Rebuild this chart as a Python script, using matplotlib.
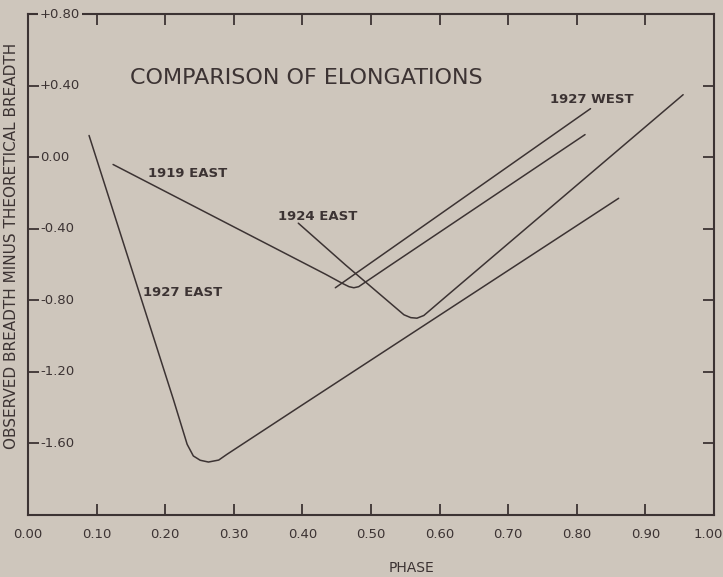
import matplotlib
matplotlib.use("Agg")
import matplotlib.pyplot as plt
from matplotlib.transforms import ScaledTranslation

# ---- data ----
east1927_x = [0.089, 0.212, 0.232, 0.241, 0.251, 0.263, 0.278, 0.290, 0.397, 0.861]
east1927_y = [0.121, -1.355, -1.605, -1.670, -1.694, -1.704, -1.693, -1.661, -1.392, -0.230]

east1919_x = [0.124, 0.434, 0.458, 0.468, 0.475, 0.482, 0.526, 0.812]
east1919_y = [-0.041, -0.655, -0.705, -0.724, -0.730, -0.724, -0.610, 0.126]

west1927_x = [0.448, 0.820]
west1927_y = [-0.730, 0.271]

east1924_x = [0.394, 0.463, 0.548, 0.558, 0.567, 0.577, 0.609, 0.955]
east1924_y = [-0.369, -0.603, -0.881, -0.897, -0.900, -0.885, -0.780, 0.349]

xtick_values = [0.0, 0.1, 0.2, 0.3, 0.4, 0.5, 0.6, 0.7, 0.8, 0.9, 1.0]
xtick_labels = ["0.00", "0.10", "0.20", "0.30", "0.40", "0.50", "0.60", "0.70", "0.80", "0.90", "1.00"]
ytick_values = [0.8, 0.4, 0.0, -0.4, -0.8, -1.2, -1.6]
ytick_labels = ["+0.80", "+0.40", "0.00", "-0.40", "-0.80", "-1.20", "-1.60"]

series_labels = ["1927 EAST", "1919 EAST", "1924 EAST", "1927 WEST"]
label_x = [0.168, 0.175, 0.365, 0.761]
label_y = [-0.759, -0.091, -0.330, 0.321]

title = "COMPARISON OF ELONGATIONS"
xlabel = "PHASE"
ylabel = "OBSERVED BREADTH MINUS THEORETICAL BREADTH"

# ---- style ----
BG = "#cec6bc"
INK = "#3c3333"

fig = plt.figure(figsize=(7.23, 5.77), dpi=100, facecolor=BG)
ax = fig.add_axes([28 / 723, 1 - 515 / 577, 686 / 723, 501 / 577], facecolor=BG)

for xs, ys in [(east1927_x, east1927_y), (east1919_x, east1919_y),
               (west1927_x, west1927_y), (east1924_x, east1924_y)]:
    ax.plot(xs, ys, color=INK, lw=1.1, solid_joinstyle="round", solid_capstyle="round")

ax.set_xlim(0, 1.0)
ax.set_ylim(-2.0, 0.8)

for s in ax.spines.values():
    s.set_color(INK)
    s.set_linewidth(1.5)

ax.set_xticks(xtick_values)
ax.set_xticklabels(xtick_labels, fontsize=9.5, color=INK)
ax.tick_params(axis="x", direction="in", length=8, width=1.3, color=INK, pad=9,
               top=True, bottom=True)
# keep the last label inside the figure, as in the reference
last = ax.get_xticklabels()[-1]
last.set_transform(last.get_transform() + ScaledTranslation(-6 / 100, 0, fig.dpi_scale_trans))

ax.set_yticks(ytick_values)
ax.set_yticklabels([])
ax.tick_params(axis="y", direction="in", length=8, width=1.3, color=INK,
               left=True, right=True)

ytr = ax.get_yaxis_transform()
for v, lab in zip(ytick_values, ytick_labels):
    t = ax.text(0.0175, v, lab, transform=ytr, ha="left", va="center",
                fontsize=9.5, color=INK, clip_on=False, zorder=5)
    if v == 0.8:
        t.set_bbox(dict(facecolor=BG, edgecolor="none", pad=1.5))

for lab, lx, ly in zip(series_labels, label_x, label_y):
    ax.text(lx, ly, lab, ha="left", va="center", fontsize=9.5, color=INK,
            fontweight="semibold")

ax.text(0.149, 0.444, title, ha="left", va="center", fontsize=16, color=INK)

fig.text(412 / 723, 1 - 568 / 577, xlabel, ha="center", va="center",
         fontsize=10, color=INK)
fig.text(12 / 723, 1 - 246 / 577, ylabel, ha="center", va="center",
         rotation=90, fontsize=11, color=INK)

fig.savefig("out.png", dpi=100, facecolor=BG)
